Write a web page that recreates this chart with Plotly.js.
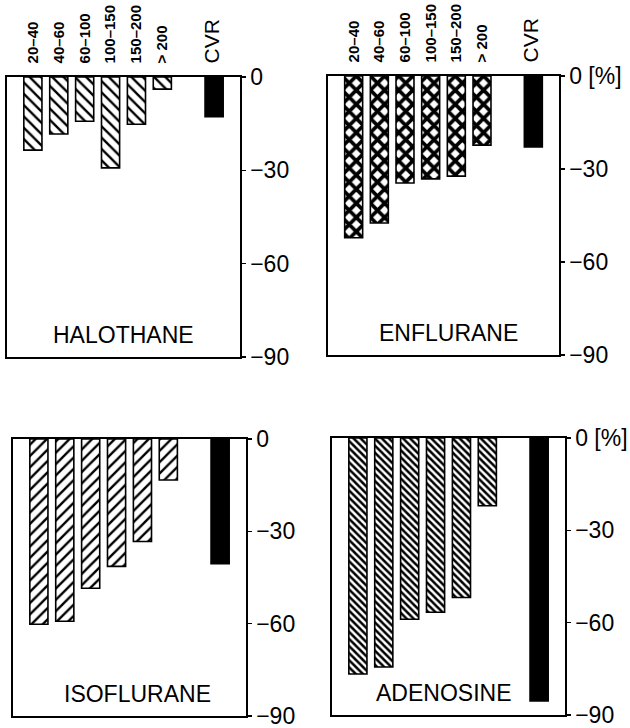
<!DOCTYPE html>
<html>
<head>
<meta charset="utf-8">
<script src="https://cdn.plot.ly/plotly-3.0.1.min.js"></script>
<style>html,body{margin:0;padding:0;background:#fff}#chart{width:630px;height:728px}</style>
</head>
<body>
<div id="chart"></div>
<script>
const categories = ['20–40', '40–60', '60–100', '100–150', '150–200', '> 200', 'CVR'];
const halothane  = [-23.5, -18.3, -14.2, -29.2, -15.2, -3.9, -12.8];
const enflurane  = [-52.2, -47.4, -34.5, -33.2, -32.3, -22.3, -22.9];
const isoflurane = [-60.2, -59.2, -48.5, -41.4, -33.3, -13.3, -40.5];
const adenosine  = [-76.7, -74.4, -58.9, -56.6, -51.8, -22.0, -85.4];
const drugNames  = ['HALOTHANE', 'ENFLURANE', 'ISOFLURANE', 'ADENOSINE'];
const yTickVals  = [0, -30, -60, -90];

const catOrder = categories.slice(0, 6).concat([' ', 'CVR']);
const font = 'Liberation Sans, Arial, sans-serif';

function mkTraces(vals, shape, size, solidity, xa, ya) {
  const n = categories.length - 1;
  return [{
    type: 'bar', x: categories.slice(0, n), y: vals.slice(0, n), xaxis: xa, yaxis: ya, width: 0.7,
    marker: {
      color: 'white',
      line: {color: 'black', width: 1.6},
      pattern: {shape: shape, fgcolor: 'black', bgcolor: 'white', size: size, solidity: solidity}
    },
    hoverinfo: 'skip', showlegend: false
  }, {
    type: 'bar', x: categories.slice(n), y: vals.slice(n), xaxis: xa, yaxis: ya, width: 0.7,
    marker: {color: 'black', line: {color: 'black', width: 1.6}},
    hoverinfo: 'skip', showlegend: false
  }];
}

const data = [].concat(
  mkTraces(halothane, '\\', 8, 0.3, 'x', 'y'),
  mkTraces(enflurane, 'x', 10, 0.6, 'x2', 'y2'),
  mkTraces(isoflurane, '/', 8, 0.3, 'x3', 'y3'),
  mkTraces(adenosine, '\\', 5, 0.5, 'x4', 'y4')
);

const W = 630, H = 728;
const boxes = [
  {l: 7, r: 240, t: 77, b: 357},
  {l: 328, r: 559, t: 76, b: 355},
  {l: 13, r: 246, t: 439, b: 716},
  {l: 332, r: 565, t: 438, b: 715}
];

const tickTextTop = categories.map(c => c === 'CVR'
  ? '<span style="font-size:21px;font-weight:normal">CVR</span>' : c);

const layout = {
  width: W, height: H, margin: {l: 0, r: 0, t: 0, b: 0},
  paper_bgcolor: 'white', plot_bgcolor: 'white',
  font: {family: font, color: 'black'},
  barmode: 'overlay',
  annotations: []
};

boxes.forEach((bx, i) => {
  const sx = i === 0 ? '' : String(i + 1);
  const top = i < 2;
  layout['xaxis' + sx] = {
    domain: [bx.l / W, bx.r / W], anchor: 'y' + sx,
    type: 'category', categoryorder: 'array', categoryarray: catOrder,
    range: [-1, 8], side: 'top',
    showline: true, mirror: true, linecolor: 'black', linewidth: 1.6,
    showgrid: false, zeroline: false, ticks: '',
    showticklabels: top, tickangle: -90, ticklabelstandoff: 9,
    tickvals: categories, ticktext: tickTextTop,
    tickfont: {family: font, size: 15, weight: 'bold', color: 'black'},
    ticklabeloverflow: 'allow',
    fixedrange: true
  };
  layout['yaxis' + sx] = {
    domain: [1 - bx.b / H, 1 - bx.t / H], anchor: 'x' + sx,
    range: [-90, 0], side: 'right',
    showline: true, mirror: true, linecolor: 'black', linewidth: 1.6,
    showgrid: false, zeroline: false,
    ticks: 'outside', ticklen: 4, tickwidth: 1.5, tickcolor: 'black',
    tickvals: yTickVals,
    ticktext: yTickVals.map(v => v === 0 ? (i % 2 === 1 ? '0 [%]' : '0') : '−' + Math.abs(v)),
    tickfont: {family: font, size: 23, color: 'black'},
    ticklabeloverflow: 'allow',
    fixedrange: true
  };
  const ax = [0.5, 0.52, 0.534, 0.48][i];
  layout.annotations.push({
    xref: 'x' + sx + ' domain', yref: 'y' + sx + ' domain',
    x: ax, y: 0.08, xanchor: 'center', yanchor: 'middle',
    text: drugNames[i], showarrow: false,
    font: {family: font, size: 23, color: 'black'}
  });
});

Plotly.newPlot('chart', data, layout, {displayModeBar: false, staticPlot: true});
</script>
</body>
</html>
